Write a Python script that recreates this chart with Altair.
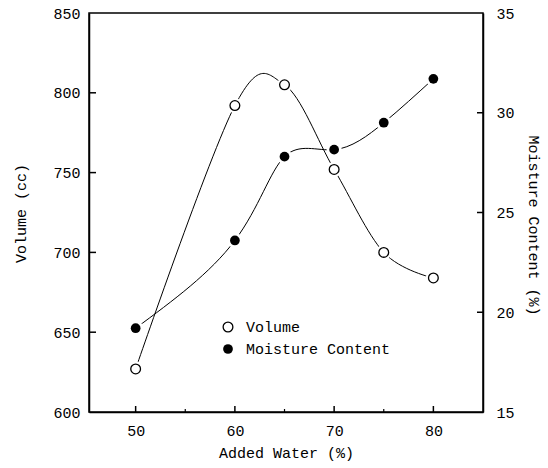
import altair as alt
import pandas as pd

added_water = [50, 60, 65, 70, 75, 80]
volume = [627, 792, 805, 752, 700, 684]
moisture = [19.2, 23.6, 27.8, 28.15, 29.5, 31.7]

vol_ticks = [650, 700, 750, 800]
moist_ticks = [20, 25, 30]
x_major = [50, 60, 70, 80]
x_minor = [55, 65, 75]

legend_labels = ["Volume", "Moisture Content"]

FONT = "Liberation Mono"
FS = 15

df = pd.DataFrame({"w": added_water, "vol": volume, "moist": moisture})

xs = alt.Scale(domain=[45.3, 85])
X = alt.X("w:Q", scale=xs, axis=alt.Axis(values=x_major, title="Added Water (%)",
          tickSize=0, labelPadding=11, grid=False, domainColor="black", domainWidth=1.5,
          titleX=197, titleY=40, titleBaseline="middle"))

vs = alt.Scale(domain=[600, 850], nice=False, zero=False)
ms = alt.Scale(domain=[15, 35], nice=False, zero=False)

base = alt.Chart(df)

vol_axis = alt.Axis(values=[600, 650, 700, 750, 800, 850], title="Volume (cc)", tickSize=0,
                    labelPadding=9, grid=False, domainColor="black", domainWidth=1.5,
                    titleX=-69, titleY=200, titleBaseline="middle", titleAlign="center")
moist_axis = alt.Axis(orient="right", values=[15, 20, 25, 30, 35], title="Moisture Content (%)",
                      tickSize=0, labelPadding=13, grid=False, domainColor="black", domainWidth=1.5,
                      titleX=50, titleY=212, titleBaseline="middle", titleAlign="center", titleAngle=90)

vol_line = base.mark_line(interpolate="cardinal", color="black", strokeWidth=1).encode(
    x=X, y=alt.Y("vol:Q", scale=vs, axis=vol_axis))
vol_halo = base.mark_point(shape="circle", filled=True, color="white", size=230, opacity=1).encode(
    x=alt.X("w:Q", scale=xs), y=alt.Y("vol:Q", scale=vs))
vol_pts = base.mark_point(shape="circle", filled=True, fill="white", stroke="black",
                          strokeWidth=1.3, size=95, opacity=1).encode(
    x=alt.X("w:Q", scale=xs), y=alt.Y("vol:Q", scale=vs))

vt = pd.DataFrame({"v": vol_ticks})
vol_tick_marks = alt.Chart(vt).mark_rule(color="black", strokeWidth=1.5).encode(
    y=alt.Y("v:Q", scale=vs), x=alt.value(0), x2=alt.value(7))

vol_layer = alt.layer(vol_line, vol_halo, vol_pts, vol_tick_marks)

moist_line = base.mark_line(interpolate="natural", color="black", strokeWidth=1).encode(
    x=alt.X("w:Q", scale=xs), y=alt.Y("moist:Q", scale=ms, axis=moist_axis))
moist_halo = base.mark_point(shape="circle", filled=True, color="white", size=230, opacity=1).encode(
    x=alt.X("w:Q", scale=xs), y=alt.Y("moist:Q", scale=ms))
moist_pts = base.mark_point(shape="circle", filled=True, color="black", size=95, opacity=1).encode(
    x=alt.X("w:Q", scale=xs), y=alt.Y("moist:Q", scale=ms))
mt = pd.DataFrame({"m": moist_ticks})
moist_tick_marks = alt.Chart(mt).mark_rule(color="black", strokeWidth=1.5).encode(
    y=alt.Y("m:Q", scale=ms), x=alt.value(388), x2=alt.value(394))

moist_layer = alt.layer(moist_line, moist_halo, moist_pts, moist_tick_marks)

xmaj = alt.Chart(pd.DataFrame({"t": x_major})).mark_rule(color="black", strokeWidth=1.5).encode(
    x=alt.X("t:Q", scale=xs), y=alt.value(399), y2=alt.value(393))
xmin = alt.Chart(pd.DataFrame({"t": x_minor})).mark_rule(color="black", strokeWidth=1.2).encode(
    x=alt.X("t:Q", scale=xs), y=alt.value(399), y2=alt.value(396))

leg_vol_pt = alt.Chart(pd.DataFrame({"l": [legend_labels[0]]})).mark_point(
    shape="circle", filled=True, fill="white", stroke="black", strokeWidth=1.3, size=95, opacity=1
).encode(x=alt.value(139), y=alt.value(314))
leg_vol_txt = alt.Chart(pd.DataFrame({"l": [legend_labels[0]]})).mark_text(
    align="left", baseline="middle", font=FONT, fontSize=FS, color="black"
).encode(x=alt.value(157), y=alt.value(314), text="l:N")
leg_m_pt = alt.Chart(pd.DataFrame({"l": [legend_labels[1]]})).mark_point(
    shape="circle", filled=True, color="black", size=95, opacity=1
).encode(x=alt.value(139), y=alt.value(336))
leg_m_txt = alt.Chart(pd.DataFrame({"l": [legend_labels[1]]})).mark_text(
    align="left", baseline="middle", font=FONT, fontSize=FS, color="black"
).encode(x=alt.value(157), y=alt.value(336), text="l:N")

chart = alt.layer(
    vol_layer, moist_layer, xmaj, xmin, leg_vol_pt, leg_vol_txt, leg_m_pt, leg_m_txt
).resolve_scale(y="independent").properties(
    width=394, height=399,
    autosize=alt.AutoSizeParams(type="none"),
    padding={"left": 89, "top": 13, "right": 65, "bottom": 56},
    background="white",
).configure_view(stroke="black", strokeWidth=1.5).configure_axis(
    labelFont=FONT, titleFont=FONT, labelFontSize=FS, titleFontSize=FS,
    labelColor="black", titleColor="black", titleFontWeight="normal"
)

chart.save("out.html", embed_options={"renderer": "svg", "actions": False})
